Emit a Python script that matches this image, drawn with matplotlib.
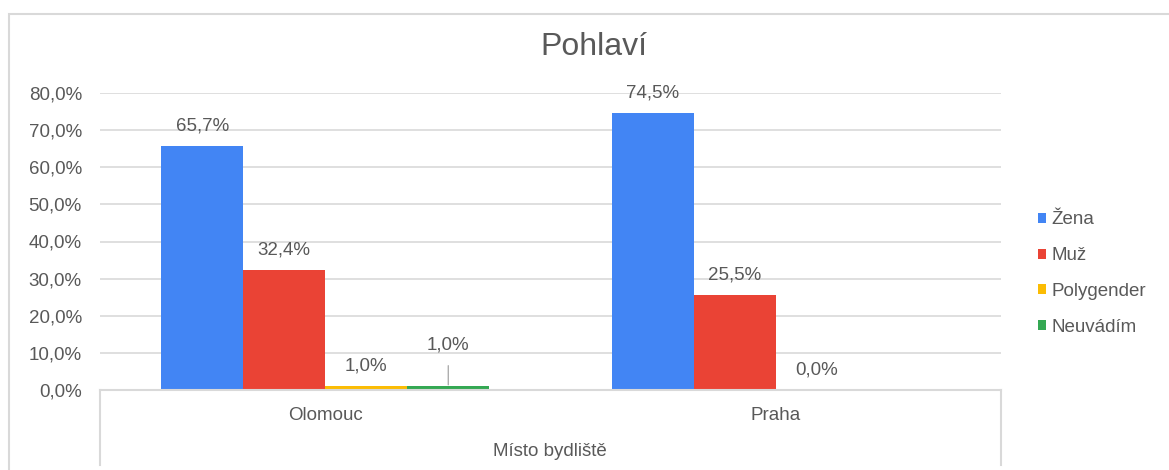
# Pohlaví - sloupcový graf podle místa bydliště
import numpy as np
import matplotlib.pyplot as plt
from matplotlib import rcParams
from matplotlib.lines import Line2D
from matplotlib.patches import Rectangle, Patch

kategorie = ['Olomouc', 'Praha']
serie = ['Žena', 'Muž', 'Polygender', 'Neuvádím']
zena = [65.7, 74.5]
muz = [32.4, 25.5]
polygender = [1.0, 0.0]
neuvadim = [1.0, np.nan]
yticks = [0, 10, 20, 30, 40, 50, 60, 70, 80]

barvy = ['#4285F4', '#EA4335', '#FBBC04', '#34A853']
sede = '#595959'
mrizka = '#d9d9d9'

rcParams.update({
    'font.family': ['Liberation Sans', 'DejaVu Sans'],
    'font.size': 13.5,
    'text.color': sede,
})

W, H = 1169, 470
fig = plt.figure(figsize=(W / 100, H / 100), dpi=100)
# plot area in pixels: x 100..1001, y 93..390
ax = fig.add_axes([100 / W, (H - 390) / H, 901 / W, (390 - 93) / H])

x = np.arange(len(kategorie))
w = 0.182
hodnoty = [zena, muz, polygender, neuvadim]
for i, (nazev, vals, c) in enumerate(zip(serie, hodnoty, barvy)):
    pos = x + (i - 1.5) * w
    ax.bar(pos, vals, w, color=c, label=nazev, zorder=3)
    for xp, v in zip(pos, vals):
        if np.isnan(v):
            continue
        txt = f'{v:.1f}%'.replace('.', ',')
        if nazev == 'Neuvádím':
            # posunutý popisek s vodicí čarou
            ax.annotate(txt, xy=(xp, v), xytext=(0, 30), textcoords='offset points',
                        ha='center', va='center', fontsize=13.5, color=sede,
                        arrowprops=dict(arrowstyle='-', color='#999999', lw=0.8,
                                        shrinkA=7, shrinkB=1))
        else:
            ax.annotate(txt, xy=(xp, v), xytext=(0, 14.5), textcoords='offset points',
                        ha='center', va='center', fontsize=13.5, color=sede)

ax.set_xlim(-0.5, 1.5)
ax.set_ylim(0, 80)
ax.set_yticks(yticks)
ax.set_yticklabels([f'{t:.1f}%'.replace('.', ',') for t in yticks])
ax.set_xticks(x)
ax.set_xticklabels(kategorie)
ax.tick_params(axis='y', length=0, pad=13, labelsize=13.5, labelcolor=sede)
ax.tick_params(axis='x', length=0, pad=12, labelsize=13.5, labelcolor=sede)
ax.grid(axis='y', color=mrizka, lw=1.2, zorder=0)
for s in ['left', 'right', 'top']:
    ax.spines[s].set_visible(False)
ax.spines['bottom'].set_color(mrizka)
ax.spines['bottom'].set_linewidth(1.5)
ax.spines['bottom'].set_zorder(4)

# okraje osy kategorií pod grafem
for px in [100, 1001]:
    fig.add_artist(Line2D([px / W, px / W], [(H - 390) / H, (H - 465) / H],
                          color=mrizka, lw=1.5))
fig.text(550 / W, (H - 452) / H, 'Místo bydliště', ha='center', va='center',
         fontsize=13.5, color=sede)

# vnější rámeček
fig.add_artist(Rectangle((9 / W, -0.1), 1.2, (H - 14) / H + 0.1, transform=fig.transFigure,
                         fill=False, edgecolor=mrizka, lw=1.5))

fig.text(594 / W, (H - 47) / H, 'Pohlaví', ha='center', va='center',
         fontsize=23, color=sede)

handles = [Patch(facecolor=c, edgecolor='none') for c in barvy]
leg = fig.legend(handles, serie, loc='upper left', bbox_to_anchor=(1030 / W, (H - 204) / H),
                 frameon=False, fontsize=13.5, handlelength=0.45, handleheight=0.45,
                 handletextpad=0.3, labelspacing=1.0, borderaxespad=0)
for t in leg.get_texts():
    t.set_color(sede)

plt.savefig('out.png', dpi=100)
